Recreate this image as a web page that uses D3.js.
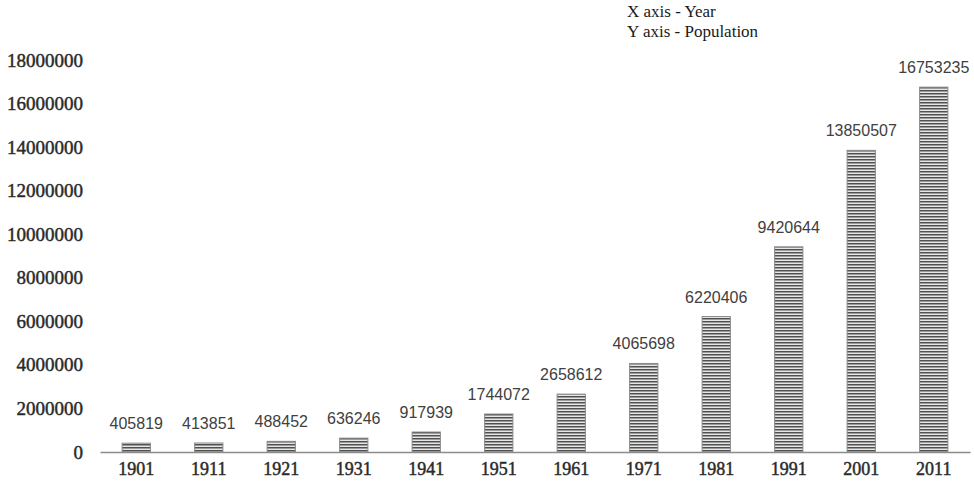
<!DOCTYPE html>
<html>
<head>
<meta charset="utf-8">
<script src="https://cdn.jsdelivr.net/npm/d3@7"></script>
<style>
  body { margin: 0; background: #fff; }
  .tick text { font-family: "Liberation Serif", serif; fill: #2a2a2a; stroke: #2a2a2a; stroke-width: 0.45px; }
</style>
</head>
<body>
<div id="chart"></div>
<script>
// years on x axis
var years = ["1901", "1911", "1921", "1931", "1941", "1951", "1961", "1971", "1981", "1991", "2001", "2011"];

// population per census year
var population = [405819, 413851, 488452, 636246, 917939, 1744072, 2658612, 4065698, 6220406, 9420644, 13850507, 16753235];

// y axis ticks
var yTicks = [0, 2000000, 4000000, 6000000, 8000000, 10000000, 12000000, 14000000, 16000000, 18000000];

// axis notes at the top
var notes = ["X axis - Year", "Y axis - Population"];

var margin = {top: 60, right: 4, bottom: 31, left: 100},
    width = 974 - margin.left - margin.right,
    height = 483 - margin.top - margin.bottom;

var svg = d3.select("#chart")
  .append("svg")
  .attr("width", 974)
  .attr("height", 483);

// striped fill for bars
var defs = svg.append("defs");
var pattern = defs.append("pattern")
  .attr("id", "stripes")
  .attr("patternUnits", "userSpaceOnUse")
  .attr("width", 8)
  .attr("height", 3);
pattern.append("rect")
  .attr("width", 8)
  .attr("height", 3)
  .attr("fill", "#e6e6e6");
pattern.append("rect")
  .attr("y", 0)
  .attr("width", 8)
  .attr("height", 1.5)
  .attr("fill", "#505050");

var plot = svg.append("g")
  .attr("transform", "translate(" + margin.left + "," + margin.top + ")");

var x = d3.scaleBand()
  .domain(years)
  .range([0, width])
  .paddingInner(0.61)
  .paddingOuter(0.305);

var y = d3.scaleLinear()
  .domain([0, 18000000])
  .range([height, 0]);

// y axis labels, no line
var yAxis = plot.append("g")
  .call(d3.axisLeft(y).tickValues(yTicks).tickSize(0).tickPadding(17).tickFormat(d3.format("d")));
yAxis.select(".domain").remove();
yAxis.selectAll("text").style("font-size", "19px");

// bars
plot.selectAll(".bar")
  .data(population)
  .enter().append("rect")
  .attr("class", "bar")
  .attr("x", function(d, i) { return x(years[i]); })
  .attr("y", function(d) { return y(d); })
  .attr("width", x.bandwidth())
  .attr("height", function(d) { return height - y(d); })
  .attr("fill", "url(#stripes)")
  .attr("stroke", "#8a8a8a")
  .attr("stroke-width", 1);

// value labels
plot.selectAll(".value")
  .data(population)
  .enter().append("text")
  .attr("class", "value")
  .attr("x", function(d, i) { return x(years[i]) + x.bandwidth() / 2; })
  .attr("y", function(d) { return y(d) - 14; })
  .attr("text-anchor", "middle")
  .style("font-family", "'Liberation Sans', Arial, sans-serif")
  .style("font-size", "16px")
  .style("fill", "#404040")
  .text(function(d) { return d; });

// x axis
var xAxis = plot.append("g")
  .attr("transform", "translate(0," + height + ")")
  .call(d3.axisBottom(x).tickSize(0).tickPadding(10));
xAxis.select(".domain")
  .attr("stroke", "#8c8c8c")
  .attr("stroke-width", 1.5);
xAxis.selectAll("text").style("font-size", "18px");

// notes top right
svg.selectAll(".note")
  .data(notes)
  .enter().append("text")
  .attr("class", "note")
  .attr("x", 627)
  .attr("y", function(d, i) { return 17 + i * 20; })
  .style("font-family", "'Liberation Serif', serif")
  .style("font-size", "17px")
  .style("fill", "#1a1a1a")
  .text(function(d) { return d; });
</script>
</body>
</html>
